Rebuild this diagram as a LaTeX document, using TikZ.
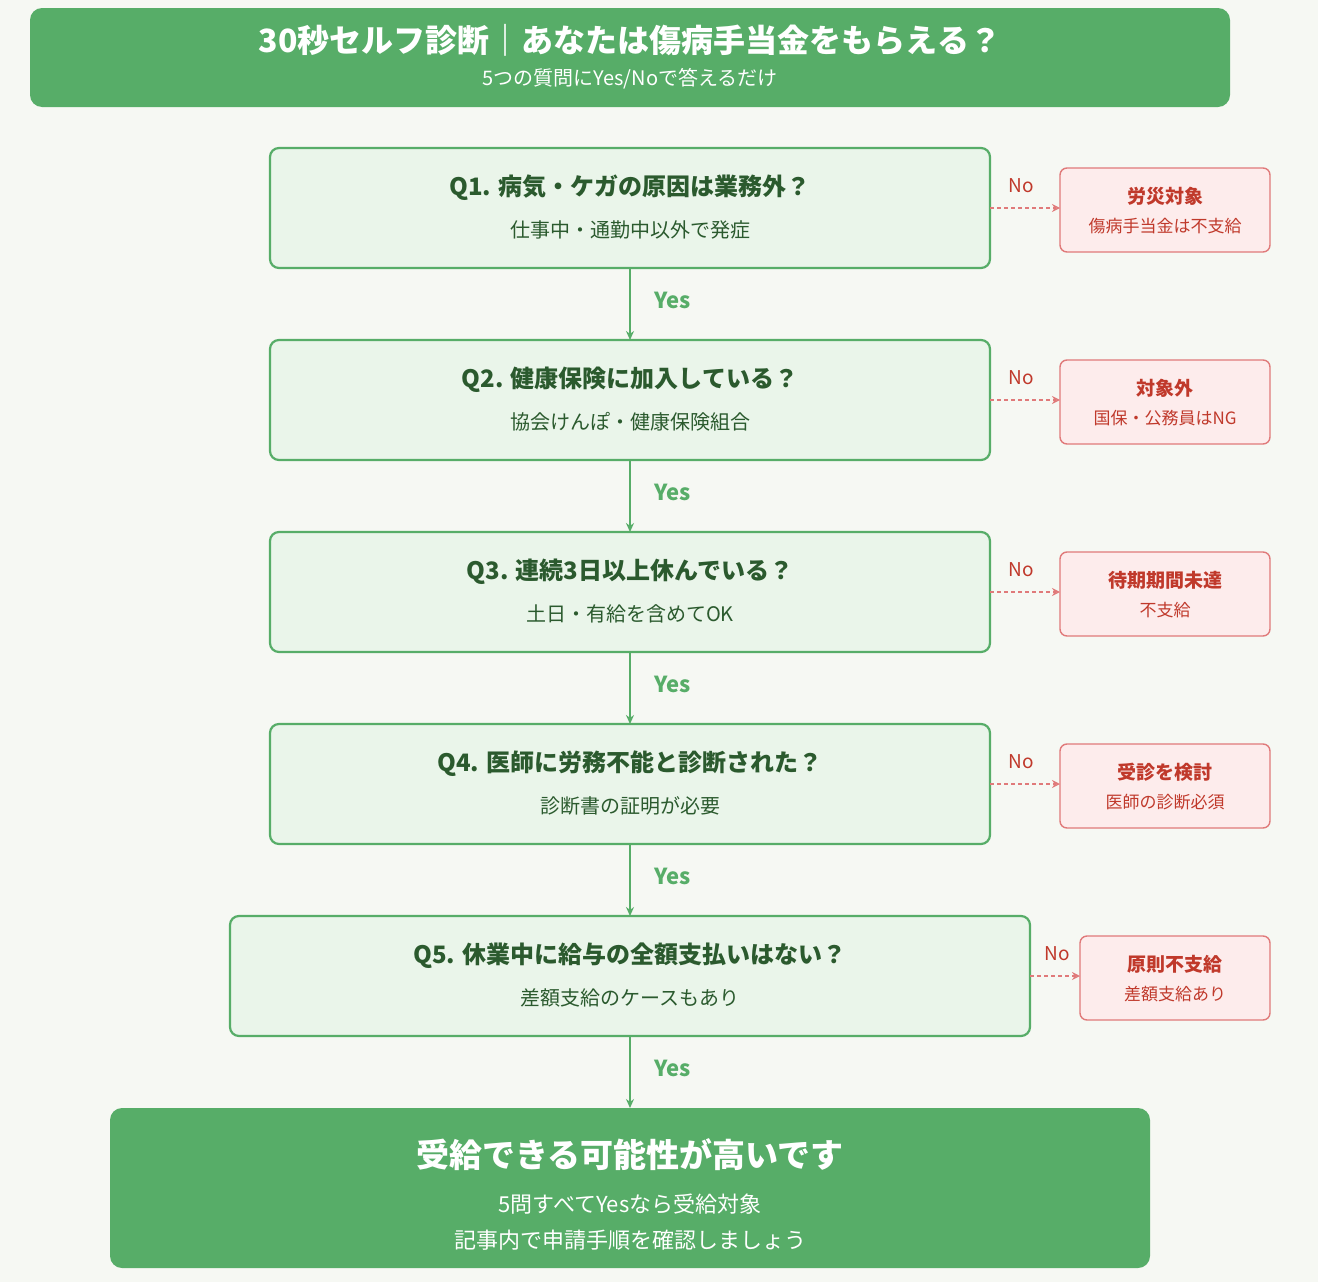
\documentclass[tikz,border=0pt]{standalone}
\usepackage{fontspec}
\setmainfont{Noto Sans CJK JP}
\usetikzlibrary{arrows.meta}
\definecolor{bg}{HTML}{F6F8F3}
\definecolor{gr}{HTML}{57AD68}
\definecolor{qfill}{HTML}{EAF5EA}
\definecolor{qtext}{HTML}{2B5A2E}
\definecolor{nfill}{HTML}{FDECEC}
\definecolor{nline}{HTML}{E07A7A}
\definecolor{ntext}{HTML}{C0392B}
\tikzset{
 qbox/.style={draw=gr,line width=2.2pt,fill=qfill,rounded corners=9pt},
 nbox/.style={draw=nline,line width=1.4pt,fill=nfill,rounded corners=7pt},
 gbox/.style={fill=gr,rounded corners=12pt},
 yesarr/.style={draw=gr,line width=2pt,-{Stealth[length=9pt,width=8pt]}},
 noarr/.style={draw=nline,line width=1.8pt,dash pattern=on 4pt off 3pt,-{Stealth[length=8pt,width=8pt,open]}},
 qt/.style={text=qtext,font=\fontsize{24}{28}\selectfont\bfseries},
 qs/.style={text=qtext,font=\fontsize{20}{24}\selectfont},
 nt/.style={text=ntext,font=\fontsize{19}{23}\selectfont\bfseries},
 ns/.style={text=ntext,font=\fontsize{17}{21}\selectfont},
 yl/.style={text=gr,font=\fontsize{22}{26}\selectfont\bfseries},
 nl/.style={text=ntext,font=\fontsize{19}{23}\selectfont},
}
\begin{document}
\begin{tikzpicture}[x=1pt,y=-1pt]
\fill[bg] (0,0) rectangle (1318,1282);
\useasboundingbox (0,0) rectangle (1318,1282);
\path[gbox] (30,8) rectangle (1230,107);
\node[text=white,font=\fontsize{32}{36}\selectfont\bfseries] (title) at (630,40) {30秒セルフ診断｜あなたは傷病手当金をもらえる？};
\node[text=white,font=\fontsize{20}{24}\selectfont] (sub) at (630,79) {5つの質問にYes/Noで答えるだけ};
\foreach \i/\y/\xa/\xb/\t/\s in {
 1/148/270/990/{Q1. 病気・ケガの原因は業務外？}/{仕事中・通勤中以外で発症},
 2/340/270/990/{Q2. 健康保険に加入している？}/{協会けんぽ・健康保険組合},
 3/532/270/990/{Q3. 連続3日以上休んでいる？}/{土日・有給を含めてOK},
 4/724/270/990/{Q4. 医師に労務不能と診断された？}/{診断書の証明が必要},
 5/916/230/1030/{Q5. 休業中に給与の全額支払いはない？}/{差額支給のケースもあり}}{
 \path[qbox] (\xa,\y) rectangle (\xb,\y+120);
 \coordinate (q\i t) at (630,\y);
 \coordinate (q\i b) at (630,\y+120);
 \node[qt] at (630,\y+40) {\t};
 \node[qs] at (630,\y+82) {\s};
}
\foreach \i/\y/\xa/\t/\s in {
 1/168/1060/{労災対象}/{傷病手当金は不支給},
 2/360/1060/{対象外}/{国保・公務員はNG},
 3/552/1060/{待期期間未達}/{不支給},
 4/744/1060/{受診を検討}/{医師の診断必須},
 5/936/1080/{原則不支給}/{差額支給あり}}{
 \path[nbox] (\xa,\y) rectangle (1270,\y+84);
 \node[nt] at ({(\xa+1270)/2},\y+28) {\t};
 \node[ns] at ({(\xa+1270)/2},\y+58) {\s};
}
\foreach \y in {208,400,592,784}{
 \draw[noarr] (990,\y) -- (1060,\y);
 \node[nl] at (1021,\y-22) {No};
}
\draw[noarr] (1030,976) -- (1080,976);
\node[nl] at (1057,954) {No};
\path[gbox] (110,1108) rectangle (1150,1268);
\coordinate (fin) at (630,1108);
\node[text=white,font=\fontsize{33}{38}\selectfont\bfseries] at (630,1155) {受給できる可能性が高いです};
\node[text=white,font=\fontsize{22}{26}\selectfont] at (630,1204) {5問すべてYesなら受給対象};
\node[text=white,font=\fontsize{22}{26}\selectfont] at (630,1240) {記事内で申請手順を確認しましょう};
\draw[yesarr] (q1b) -- (q2t); \node[yl] at (673,300) {Yes};
\draw[yesarr] (q2b) -- (q3t); \node[yl] at (673,492) {Yes};
\draw[yesarr] (q3b) -- (q4t); \node[yl] at (673,684) {Yes};
\draw[yesarr] (q4b) -- (q5t); \node[yl] at (673,876) {Yes};
\draw[yesarr] (q5b) -- (fin); \node[yl] at (673,1068) {Yes};
\end{tikzpicture}
\end{document}
